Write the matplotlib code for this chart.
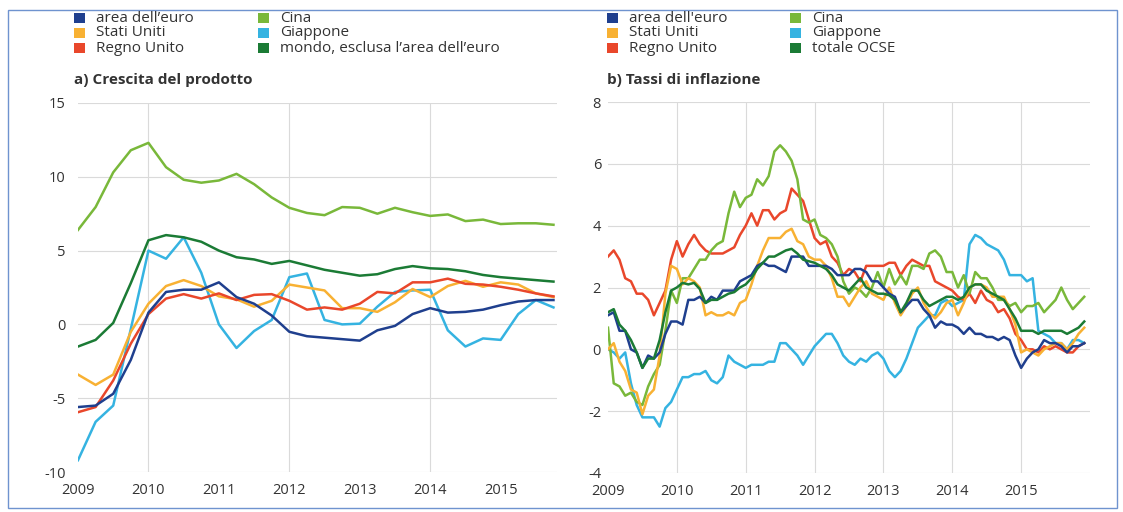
import matplotlib
matplotlib.use("Agg")
import matplotlib.pyplot as plt
from matplotlib.patches import Rectangle
import numpy as np

plt.rcParams['font.family'] = ['Open Sans', 'DejaVu Sans']
plt.rcParams['axes.unicode_minus'] = False

# ---------------- data ----------------
legend_a = ["area dell\u2019euro", "Stati Uniti", "Regno Unito", "Cina", "Giappone",
            "mondo, esclusa l\u2019area dell\u2019euro"]
legend_b = ["area dell'euro", "Stati Uniti", "Regno Unito", "Cina", "Giappone", "totale OCSE"]
title_a = "a) Crescita del prodotto"
title_b = "b) Tassi di inflazione"
year_ticks = [2009, 2010, 2011, 2012, 2013, 2014, 2015]
yticks_a = [-10, -5, 0, 5, 10, 15]
yticks_b = [-4, -2, 0, 2, 4, 6, 8]

# panel a: quarterly GDP growth, 2009Q1-2015Q4
euro_gdp = [-5.6, -5.5, -4.7, -2.4, 0.8, 2.2, 2.35, 2.35, 2.85, 1.85, 1.4, 0.6,
            -0.5, -0.8, -0.9, -1.0, -1.1, -0.4, -0.1, 0.7, 1.1, 0.8, 0.85, 1.0,
            1.3, 1.55, 1.65, 1.65]
us_gdp = [-3.4, -4.1, -3.4, -0.5, 1.4, 2.6, 3.0, 2.6, 1.9, 1.7, 1.2, 1.6,
          2.7, 2.5, 2.3, 1.1, 1.1, 0.85, 1.5, 2.4, 1.85, 2.6, 2.95, 2.55,
          2.85, 2.7, 2.1, 1.85]
uk_gdp = [-5.95, -5.6, -3.8, -1.3, 0.7, 1.75, 2.05, 1.75, 2.1, 1.65, 2.0, 2.05,
          1.6, 1.0, 1.15, 1.0, 1.4, 2.2, 2.1, 2.85, 2.85, 3.1, 2.75, 2.7,
          2.55, 2.35, 2.1, 1.9]
china_gdp = [6.4, 7.95, 10.3, 11.8, 12.3, 10.65, 9.8, 9.6, 9.75, 10.2, 9.5, 8.6,
             7.9, 7.55, 7.4, 7.95, 7.9, 7.5, 7.9, 7.6, 7.35, 7.45, 7.0, 7.1,
             6.8, 6.85, 6.85, 6.75]
japan_gdp = [-9.2, -6.6, -5.5, -0.3, 5.0, 4.45, 5.9, 3.5, 0.0, -1.6, -0.45, 0.3,
             3.2, 3.45, 0.3, 0.0, 0.05, 1.2, 2.2, 2.3, 2.35, -0.4, -1.5, -0.95,
             -1.05, 0.7, 1.65, 1.15]
world_gdp = [-1.5, -1.05, 0.1, 2.8, 5.7, 6.05, 5.9, 5.6, 5.0, 4.55, 4.4, 4.1,
             4.3, 4.0, 3.7, 3.5, 3.3, 3.4, 3.75, 3.95, 3.8, 3.75, 3.6, 3.35,
             3.2, 3.1, 3.0, 2.9]

# panel b: monthly inflation, Jan 2009 - Dec 2015
euro_cpi = [1.1, 1.2, 0.6, 0.6, 0.0, -0.1, -0.6, -0.2, -0.3, -0.1, 0.5, 0.9,
            0.9, 0.8, 1.6, 1.6, 1.7, 1.5, 1.7, 1.6, 1.9, 1.9, 1.9, 2.2,
            2.3, 2.4, 2.7, 2.8, 2.7, 2.7, 2.6, 2.5, 3.0, 3.0, 3.0, 2.7,
            2.7, 2.7, 2.7, 2.6, 2.4, 2.4, 2.4, 2.6, 2.6, 2.5, 2.2, 2.2,
            2.0, 1.8, 1.7, 1.2, 1.4, 1.6, 1.6, 1.3, 1.1, 0.7, 0.9, 0.8,
            0.8, 0.7, 0.5, 0.7, 0.5, 0.5, 0.4, 0.4, 0.3, 0.4, 0.3, -0.2,
            -0.6, -0.3, -0.1, 0.0, 0.3, 0.2, 0.2, 0.1, -0.1, 0.1, 0.1, 0.2]
us_cpi = [0.0, 0.2, -0.4, -0.7, -1.3, -1.4, -2.1, -1.5, -1.3, -0.2, 1.8, 2.7,
          2.6, 2.1, 2.3, 2.2, 2.0, 1.1, 1.2, 1.1, 1.1, 1.2, 1.1, 1.5,
          1.6, 2.1, 2.7, 3.2, 3.6, 3.6, 3.6, 3.8, 3.9, 3.5, 3.4, 3.0,
          2.9, 2.9, 2.7, 2.3, 1.7, 1.7, 1.4, 1.7, 2.0, 2.2, 1.8, 1.7,
          1.6, 2.0, 1.5, 1.1, 1.4, 1.8, 2.0, 1.5, 1.2, 1.0, 1.2, 1.5,
          1.6, 1.1, 1.5, 2.0, 2.1, 2.1, 2.0, 1.7, 1.7, 1.7, 1.3, 0.8,
          -0.1, 0.0, -0.1, -0.2, 0.0, 0.1, 0.2, 0.2, 0.0, 0.2, 0.5, 0.7]
uk_cpi = [3.0, 3.2, 2.9, 2.3, 2.2, 1.8, 1.8, 1.6, 1.1, 1.5, 1.9, 2.9,
          3.5, 3.0, 3.4, 3.7, 3.4, 3.2, 3.1, 3.1, 3.1, 3.2, 3.3, 3.7,
          4.0, 4.4, 4.0, 4.5, 4.5, 4.2, 4.4, 4.5, 5.2, 5.0, 4.8, 4.2,
          3.6, 3.4, 3.5, 3.0, 2.8, 2.4, 2.6, 2.5, 2.2, 2.7, 2.7, 2.7,
          2.7, 2.8, 2.8, 2.4, 2.7, 2.9, 2.8, 2.7, 2.7, 2.2, 2.1, 2.0,
          1.9, 1.7, 1.6, 1.8, 1.5, 1.9, 1.6, 1.5, 1.2, 1.3, 1.0, 0.5,
          0.3, 0.0, 0.0, -0.1, 0.1, 0.0, 0.1, 0.0, -0.1, -0.1, 0.1, 0.2]
china_cpi = [0.7, -1.1, -1.2, -1.5, -1.4, -1.7, -1.8, -1.2, -0.8, -0.5, 0.6, 1.9,
             1.5, 2.3, 2.3, 2.6, 2.9, 2.9, 3.2, 3.4, 3.5, 4.4, 5.1, 4.6,
             4.9, 5.0, 5.5, 5.3, 5.6, 6.4, 6.6, 6.4, 6.1, 5.5, 4.2, 4.1,
             4.2, 3.7, 3.6, 3.4, 3.0, 2.2, 1.8, 2.0, 1.9, 1.7, 2.0, 2.5,
             2.0, 2.6, 2.1, 2.4, 2.1, 2.7, 2.7, 2.6, 3.1, 3.2, 3.0, 2.5,
             2.5, 2.0, 2.4, 1.8, 2.5, 2.3, 2.3, 2.0, 1.6, 1.6, 1.4, 1.5,
             1.2, 1.4, 1.4, 1.5, 1.2, 1.4, 1.6, 2.0, 1.6, 1.3, 1.5, 1.7]
japan_cpi = [0.0, -0.1, -0.3, -0.1, -1.1, -1.8, -2.2, -2.2, -2.2, -2.5, -1.9, -1.7,
             -1.3, -0.9, -0.9, -0.8, -0.8, -0.7, -1.0, -1.1, -0.9, -0.2, -0.4, -0.5,
             -0.6, -0.5, -0.5, -0.5, -0.4, -0.4, 0.2, 0.2, 0.0, -0.2, -0.5, -0.2,
             0.1, 0.3, 0.5, 0.5, 0.2, -0.2, -0.4, -0.5, -0.3, -0.4, -0.2, -0.1,
             -0.3, -0.7, -0.9, -0.7, -0.3, 0.2, 0.7, 0.9, 1.1, 1.1, 1.5, 1.6,
             1.4, 1.5, 1.6, 3.4, 3.7, 3.6, 3.4, 3.3, 3.2, 2.9, 2.4, 2.4,
             2.4, 2.2, 2.3, 0.6, 0.5, 0.4, 0.2, 0.2, 0.0, 0.3, 0.3, 0.2]
oecd_cpi = [1.2, 1.3, 0.8, 0.6, 0.3, -0.1, -0.6, -0.3, -0.3, 0.3, 1.2, 1.9,
            2.0, 2.15, 2.1, 2.15, 1.95, 1.5, 1.6, 1.6, 1.7, 1.8, 1.85, 2.0,
            2.1, 2.3, 2.6, 2.8, 3.0, 3.0, 3.1, 3.2, 3.25, 3.1, 2.9, 2.85,
            2.8, 2.7, 2.6, 2.4, 2.1, 2.0, 1.9, 2.1, 2.3, 2.0, 1.9, 1.8,
            1.8, 1.75, 1.6, 1.2, 1.5, 1.9, 1.9, 1.6, 1.4, 1.5, 1.6, 1.7,
            1.7, 1.6, 1.7, 2.0, 2.1, 2.1, 1.9, 1.8, 1.7, 1.6, 1.3, 1.0,
            0.6, 0.6, 0.6, 0.5, 0.6, 0.6, 0.6, 0.6, 0.5, 0.6, 0.7, 0.9]

colors = ["#1f3f8e", "#f8b133", "#e9472b", "#79b83a", "#35b3e1", "#1b7b35"]

# ---------------- figure ----------------
W, H = 1123, 512
fig = plt.figure(figsize=(W / 100, H / 100), dpi=100)
text_col = "#333333"
grid_col = "#dadada"


def fx(px):
    return px / W


def fy(py):
    return 1 - py / H


# figure frame
fig.patches.append(Rectangle((fx(8), fy(508)), fx(1117) - fx(8), fy(10) - fy(508),
                             transform=fig.transFigure, fill=False,
                             edgecolor="#6f93cf", lw=1.0))


def legend(x0, x1, labels):
    rows = [18, 33, 48]
    for k, lab in enumerate(labels):
        col = k // 3
        r = k % 3
        xs = x0 if col == 0 else x1
        y = rows[r]
        fig.patches.append(Rectangle((fx(xs), fy(y + 5)), fx(11), 10 / H,
                                     transform=fig.transFigure,
                                     color=colors[k], lw=0))
        fig.text(fx(xs + 22), fy(y), lab, fontsize=11, color=text_col,
                 va="center", ha="left")


legend(74, 258, legend_a)
legend(607, 790, legend_b)
fig.text(fx(74), fy(80), title_a, fontsize=11, fontweight="bold",
         color=text_col, va="center", ha="left")
fig.text(fx(607), fy(80), title_b, fontsize=11, fontweight="bold",
         color=text_col, va="center", ha="left")

# ---------------- panel a ----------------
axA = fig.add_axes([fx(78), fy(472), fx(557) - fx(78), fy(103) - fy(472)])
tq = 2009 + np.arange(len(euro_gdp)) / 4.0
series_a = [euro_gdp, us_gdp, uk_gdp, china_gdp, japan_gdp, world_gdp]
order = [4, 1, 2, 0, 3, 5]
for k in order:
    axA.plot(tq, series_a[k], color=colors[k], lw=1.8, solid_joinstyle="round")
axA.set_xlim(2009, 2015.8)
axA.set_ylim(-10, 15)
axA.set_yticks(yticks_a)
axA.set_xticks(year_ticks)
for yv in yticks_a:
    axA.axhline(yv, color=grid_col, lw=0.8, zorder=0)
for xv in [2010, 2012, 2014]:
    axA.axvline(xv, color=grid_col, lw=0.8, zorder=0)

# ---------------- panel b ----------------
axB = fig.add_axes([fx(608), fy(473), fx(1090) - fx(608), fy(102) - fy(473)])
tm = 2009 + np.arange(len(euro_cpi)) / 12.0
series_b = [euro_cpi, us_cpi, uk_cpi, china_cpi, japan_cpi, oecd_cpi]
for k in [4, 2, 3, 1, 0, 5]:
    axB.plot(tm, series_b[k], color=colors[k], lw=1.8, solid_joinstyle="round")
axB.set_xlim(2009, 2016)
axB.set_ylim(-4, 8)
axB.set_yticks(yticks_b)
axB.set_xticks(year_ticks)
for yv in yticks_b:
    axB.axhline(yv, color=grid_col, lw=0.8, zorder=0)
for xv in year_ticks[1:]:
    axB.axvline(xv, color=grid_col, lw=0.8, zorder=0)

for ax in (axA, axB):
    for s in ax.spines.values():
        s.set_visible(False)
    ax.tick_params(length=0, labelsize=10.5, labelcolor=text_col)
    ax.tick_params(axis="x", pad=8)
    ax.set_facecolor("none")
axA.tick_params(axis="y", pad=9)
axB.tick_params(axis="y", pad=5)

fig.savefig("out.png", dpi=100)
